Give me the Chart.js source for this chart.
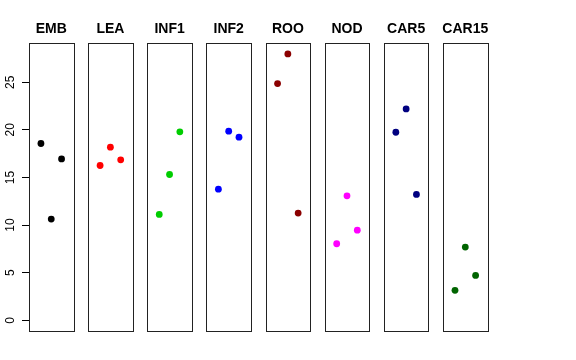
<!DOCTYPE html>
<html>
<head>
<meta charset="utf-8">
<script src="https://cdn.jsdelivr.net/npm/chart.js@4.4.1/dist/chart.umd.min.js"></script>
<style>
    html, body { margin: 0; padding: 0; background: #fff; }
    #wrap { position: relative; width: 576px; height: 360px; }
    #wrap canvas { position: absolute; left: 0; top: 0; }
</style>
</head>
<body>
<div id="wrap"></div>
<script>
const GROUPS = ['EMB', 'LEA', 'INF1', 'INF2', 'ROO', 'NOD', 'CAR5', 'CAR15'];
const COLORS = ['#000000', '#FF0000', '#00CD00', '#0000FF', '#8B0000', '#FF00FF', '#000080', '#006400'];
const X_POS = [1, 2, 3];

const EMB = [18.57, 10.63, 16.95];
const LEA = [16.26, 18.18, 16.85];
const INF1 = [11.12, 15.31, 19.79];
const INF2 = [13.77, 19.86, 19.23];
const ROO = [24.86, 27.97, 11.26];
const NOD = [8.04, 13.07, 9.47];
const CAR5 = [19.75, 22.2, 13.22];
const CAR15 = [3.15, 7.69, 4.72];

const SERIES = [EMB, LEA, INF1, INF2, ROO, NOD, CAR5, CAR15];
const Y_TICKS = [0, 5, 10, 15, 20, 25];

const W = 576;
const H = 360;
const PANEL_LEFT = 29;
const PANEL_STEP = 59.15;
const PANEL_W = 44.5;
const PANEL_TOP = 43;
const PANEL_BOTTOM = 331;

const panelDecor = {
    id: 'panelDecor',
    afterDraw: (chart) => {
        const { ctx, chartArea } = chart;
        const { left, top, right, bottom } = chartArea;
        ctx.save();
        ctx.strokeStyle = '#222';
        ctx.lineWidth = 1;
        ctx.strokeRect(Math.round(left) + 0.5, Math.round(top) + 0.5,
            Math.round(right) - Math.round(left), Math.round(bottom) - Math.round(top));
        ctx.fillStyle = '#000';
        ctx.font = 'bold 14px "Liberation Sans", Arial, sans-serif';
        ctx.textAlign = 'center';
        ctx.textBaseline = 'middle';
        ctx.fillText(chart.options.plugins.panelDecor.label, (left + right) / 2, 29);
        ctx.restore();
    },
};

const wrap = document.getElementById('wrap');

GROUPS.forEach((name, i) => {
    const canvas = document.createElement('canvas');
    canvas.width = W;
    canvas.height = H;
    wrap.appendChild(canvas);

    const left = PANEL_LEFT + i * PANEL_STEP;
    const right = left + PANEL_W;
    const first = i === 0;

    new Chart(canvas, {
        type: 'scatter',
        data: {
            datasets: [
                {
                    data: X_POS.map((x, k) => ({ x, y: SERIES[i][k] })),
                    backgroundColor: COLORS[i],
                    borderWidth: 0,
                    pointRadius: 3.4,
                },
            ],
        },
        plugins: [panelDecor],
        options: {
            responsive: false,
            animation: false,
            devicePixelRatio: 1,
            layout: {
                padding: {
                    left: first ? 0 : left,
                    right: W - right,
                    top: PANEL_TOP,
                    bottom: H - PANEL_BOTTOM,
                },
            },
            scales: {
                x: { type: 'linear', min: -0.16, max: 4.16, display: false },
                y: {
                    type: 'linear',
                    min: -1.12,
                    max: 29.12,
                    display: first,
                    afterBuildTicks: (scale) => {
                        scale.ticks = Y_TICKS.map((v) => ({ value: v }));
                    },
                    afterFit: (scale) => {
                        if (first) scale.width = PANEL_LEFT;
                    },
                    border: { display: false },
                    grid: { drawOnChartArea: false, drawTicks: true, tickLength: 7, color: '#000' },
                    ticks: {
                        minRotation: 90,
                        maxRotation: 90,
                        crossAlign: 'center',
                        padding: 5,
                        color: '#000',
                        font: { family: '"Liberation Sans", Arial, sans-serif', size: 12 },
                    },
                },
            },
            plugins: {
                legend: { display: false },
                tooltip: { enabled: false },
                panelDecor: { label: name },
            },
        },
    });
});
</script>
</body>
</html>
